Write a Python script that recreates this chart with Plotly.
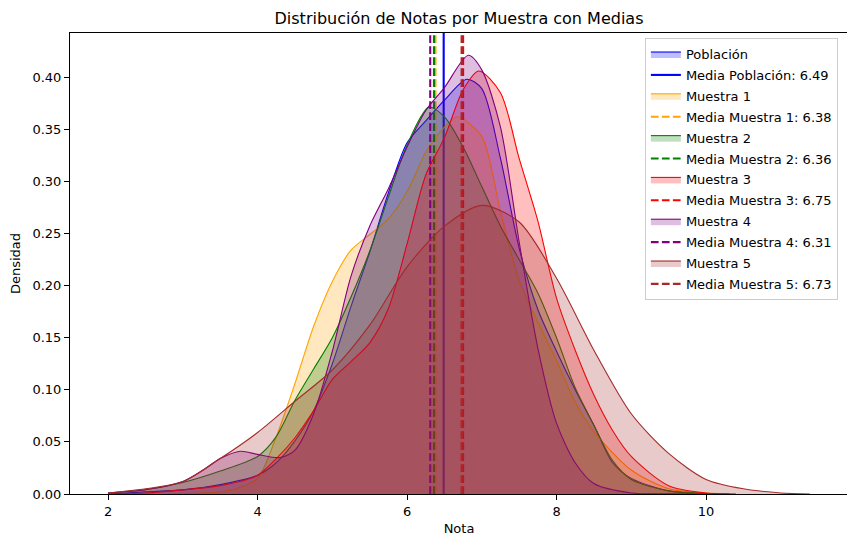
import plotly.graph_objects as go

# ---- data ----
pob_x = [2.0, 2.5, 3.0, 3.5, 4.0, 4.25, 4.5, 4.75, 5.0, 5.25, 5.5, 5.75, 6.0, 6.25, 6.5, 6.8, 7.0, 7.25, 7.5, 7.75, 8.0, 8.25, 8.5, 8.75, 9.0, 9.5, 10.0, 10.3]
pob_y = [0.000, 0.002, 0.004, 0.009, 0.018, 0.030, 0.051, 0.080, 0.125, 0.180, 0.232, 0.289, 0.337, 0.358, 0.378, 0.398, 0.389, 0.322, 0.236, 0.177, 0.137, 0.100, 0.066, 0.030, 0.015, 0.003, 0.0005, 0.0]

m1_x = [2.8, 3.25, 3.5, 3.75, 4.0, 4.25, 4.5, 4.75, 5.0, 5.25, 5.5, 5.75, 6.0, 6.25, 6.5, 6.67, 7.0, 7.25, 7.5, 7.75, 8.0, 8.25, 8.5, 9.0, 9.5, 10.0, 10.4]
m1_y = [0.0, 0.001, 0.002, 0.006, 0.015, 0.055, 0.106, 0.161, 0.204, 0.234, 0.249, 0.264, 0.290, 0.328, 0.352, 0.362, 0.343, 0.271, 0.205, 0.165, 0.128, 0.088, 0.060, 0.023, 0.005, 0.001, 0.0]

m2_x = [2.0, 2.5, 3.0, 3.5, 4.0, 4.25, 4.5, 4.75, 5.0, 5.25, 5.5, 5.75, 6.0, 6.29, 6.5, 6.75, 7.0, 7.25, 7.5, 7.75, 8.0, 8.25, 8.5, 8.75, 9.0, 9.5, 10.0, 10.2]
m2_y = [0.001, 0.004, 0.011, 0.022, 0.036, 0.055, 0.090, 0.120, 0.150, 0.189, 0.233, 0.285, 0.335, 0.371, 0.362, 0.333, 0.295, 0.257, 0.225, 0.193, 0.150, 0.102, 0.066, 0.032, 0.014, 0.003, 0.0005, 0.0]

m3_x = [2.0, 2.5, 3.0, 3.5, 4.0, 4.25, 4.5, 4.75, 5.0, 5.25, 5.5, 5.75, 6.0, 6.25, 6.5, 6.75, 6.96, 7.25, 7.5, 7.75, 8.0, 8.25, 8.5, 8.75, 9.0, 9.5, 10.0, 10.4]
m3_y = [0.000, 0.001, 0.004, 0.008, 0.018, 0.034, 0.054, 0.080, 0.110, 0.127, 0.145, 0.178, 0.240, 0.306, 0.342, 0.388, 0.406, 0.385, 0.322, 0.262, 0.188, 0.138, 0.095, 0.061, 0.036, 0.008, 0.001, 0.0]

m4_x = [2.0, 2.5, 3.0, 3.25, 3.5, 3.77, 4.0, 4.3, 4.5, 4.75, 5.0, 5.25, 5.5, 5.75, 6.0, 6.25, 6.5, 6.82, 7.0, 7.25, 7.5, 7.75, 8.0, 8.25, 8.5, 9.0, 9.5, 10.32]
m4_y = [0.001, 0.004, 0.012, 0.022, 0.034, 0.041, 0.038, 0.035, 0.042, 0.077, 0.137, 0.209, 0.257, 0.293, 0.333, 0.368, 0.390, 0.421, 0.407, 0.352, 0.242, 0.140, 0.068, 0.030, 0.010, 0.001, 0.0002, 0.0]

m5_x = [2.0, 2.5, 3.0, 3.5, 4.0, 4.5, 5.0, 5.5, 6.0, 6.5, 7.0, 7.5, 8.0, 8.5, 9.0, 9.5, 10.0, 10.5, 11.0, 11.39]
m5_y = [0.001, 0.005, 0.012, 0.034, 0.059, 0.089, 0.119, 0.162, 0.218, 0.257, 0.277, 0.261, 0.207, 0.138, 0.077, 0.039, 0.014, 0.005, 0.001, 0.0]

series_names = ["Población", "Muestra 1", "Muestra 2", "Muestra 3", "Muestra 4", "Muestra 5"]
means = [6.49, 6.38, 6.36, 6.75, 6.31, 6.73]

# ---- styling ----
line_colors = ["rgb(0,0,255)", "rgb(255,165,0)", "rgb(0,128,0)", "rgb(255,0,0)", "rgb(128,0,128)", "rgb(165,42,42)"]
fill_colors = ["rgba(0,0,255,0.25)", "rgba(255,165,0,0.25)", "rgba(0,128,0,0.25)",
               "rgba(255,0,0,0.25)", "rgba(128,0,128,0.25)", "rgba(165,42,42,0.25)"]
XR = [1.49, 11.9]
YR = [0, 0.4424]
FONT = "DejaVu Sans"
W, H = 847, 540   # page body adds an 8px margin

curves = [(pob_x, pob_y), (m1_x, m1_y), (m2_x, m2_y), (m3_x, m3_y), (m4_x, m4_y), (m5_x, m5_y)]

fig = go.Figure()
k = 0
for i, ((cx, cy), name, mean) in enumerate(zip(curves, series_names, means)):
    fig.add_trace(go.Scatter(
        x=cx, y=cy, mode="lines", name=name, legendgroup=f"g{k}",
        line=dict(color=line_colors[i], width=1.1, shape="spline", smoothing=0.8),
        fill="tozeroy", fillcolor=fill_colors[i],
    ))
    k += 1
    label = f"Media {name}: {mean:.2f}"
    fig.add_trace(go.Scatter(
        x=[mean, mean], y=YR, mode="lines", name=label, legendgroup=f"g{k}",
        line=dict(color=line_colors[i], width=2.1,
                  dash="solid" if i == 0 else "7.7px,3.3px"),
    ))
    k += 1

axis_common = dict(
    showline=True, mirror=True, linecolor="black", linewidth=1,
    ticks="outside", ticklen=5, tickwidth=1, tickcolor="black",
    showgrid=False, zeroline=False, automargin=False,
    tickfont=dict(family=FONT, size=13, color="black"),
)

fig.update_layout(
    width=W, height=H,
    margin=dict(l=62, r=7, t=25, b=54),
    paper_bgcolor="white", plot_bgcolor="white",
    font=dict(family=FONT, color="black"),
    title=dict(text="Distribución de Notas por Muestra con Medias",
               x=0.5, xref="paper", y=1 - 10 / H, yref="container",
               xanchor="center", yanchor="middle",
               font=dict(family=FONT, size=16, color="black")),
    xaxis=dict(range=XR, tickvals=[2, 4, 6, 8, 10],
               title=dict(text="Nota", font=dict(family=FONT, size=13), standoff=6),
               **axis_common),
    yaxis=dict(range=YR, tickvals=[0, 0.05, 0.1, 0.15, 0.2, 0.25, 0.3, 0.35, 0.4],
               tickformat=".2f",
               title=dict(text="Densidad", font=dict(family=FONT, size=13), standoff=8),
               **axis_common),
    legend=dict(x=0.987, y=0.989, xanchor="right", yanchor="top",
                bgcolor="rgba(255,255,255,0.8)", bordercolor="#cccccc", borderwidth=1,
                font=dict(family=FONT, size=13, color="black"),
                itemwidth=30, tracegroupgap=1),
    showlegend=True,
)

fig.write_html("out.html")
